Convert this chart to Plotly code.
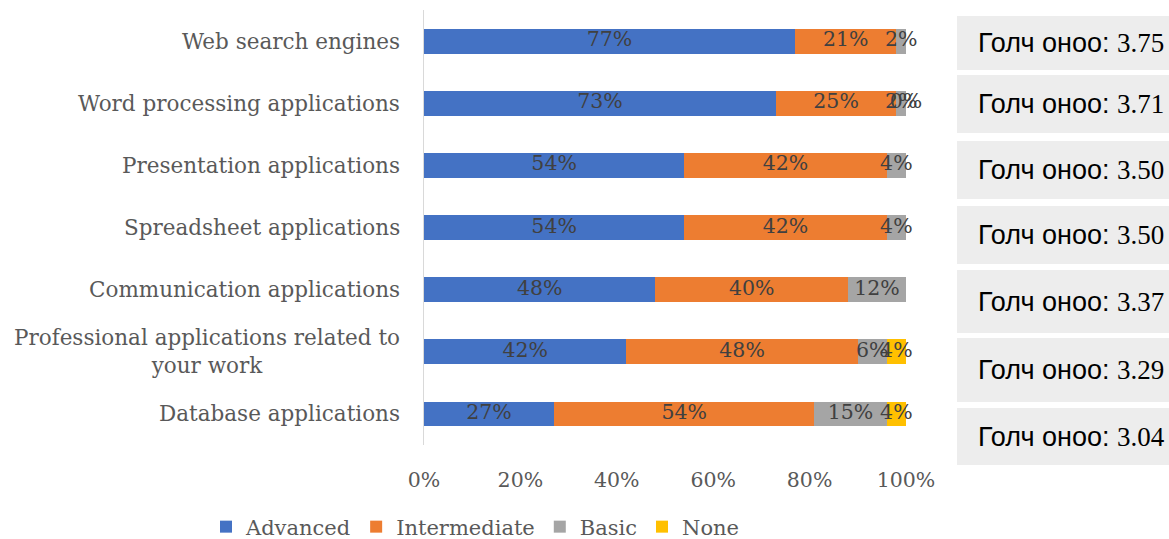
import plotly.graph_objects as go

categories = ["Web search engines", "Word processing applications",
              "Presentation applications", "Spreadsheet applications",
              "Communication applications",
              "Professional applications related to<br>your work",
              "Database applications"]
advanced = [77, 73, 54, 54, 48, 42, 27]
intermediate = [21, 25, 42, 42, 40, 48, 54]
basic = [2, 2, 4, 4, 12, 6, 15]
none_ = [0, 0, 0, 0, 0, 4, 4]
none_labels = ["", "0%", "", "", "", "4%", "4%"]
means = ["3.75", "3.71", "3.50", "3.50", "3.37", "3.29", "3.04"]
series_names = ["Advanced", "Intermediate", "Basic", "None"]
colors = ["#4472C4", "#ED7D31", "#A5A5A5", "#FFC000"]
x_ticks = [0, 20, 40, 60, 80, 100]

W, H = 1169, 539
L, R, T, B = 424, 263, 10, 94
pw = W - L - R
ph = H - T - B

serif = "DejaVu Serif"
fig = go.Figure()
series = [advanced, intermediate, basic, none_]
for name, vals, col in zip(series_names, series, colors):
    fig.add_trace(go.Bar(y=categories, x=vals, name=name, orientation="h",
                         marker=dict(color=col, line=dict(width=0)),
                         width=0.4, hoverinfo="skip"))

# data labels centred on segments
for i, vals in enumerate(series):
    start = [sum(s[j] for s in series[:i]) for j in range(len(categories))]
    mids = [st + v / 2 for st, v in zip(start, vals)]
    if i == 3:
        texts = none_labels
    else:
        texts = [f"{v}%" if v > 0 else "" for v in vals]
    fig.add_trace(go.Scatter(y=categories, x=mids, mode="text", text=texts,
                             textfont=dict(family=serif, size=20.5, color="#404040"),
                             showlegend=False, hoverinfo="skip", cliponaxis=False))

# category labels
for c in categories:
    fig.add_annotation(x=0, y=c, xref="paper", yref="y", text=c, showarrow=False,
                       xanchor="right", xshift=-22, align="center",
                       font=dict(family=serif, size=21.5, color="#595959"))

# mean boxes (pixel top/bottom)
box_px = [(16, 70), (75, 133), (141, 199), (206, 264), (270, 333), (338, 402), (408, 465)]
bx0 = (957 - L) / pw
bx1 = (1169 - L) / pw
for (t, b), m in zip(box_px, means):
    y0 = (H - B - b) / ph
    y1 = (H - B - t) / ph
    fig.add_shape(type="rect", xref="paper", yref="paper", x0=bx0, x1=bx1,
                  y0=y0, y1=y1, fillcolor="#EDEDED", line=dict(width=0), layer="below")
    fig.add_annotation(xref="paper", yref="paper", x=(976 - L) / pw, y=(y0 + y1) / 2,
                       xanchor="left", yanchor="middle", showarrow=False,
                       text=f"Голч оноо: <span style='font-family:Liberation Serif'>{m}</span>",
                       font=dict(family="Liberation Sans", size=27, color="#000000"))

fig.update_layout(
    barmode="stack", width=W, height=H,
    margin=dict(l=L, r=R, t=T, b=B, autoexpand=False),
    paper_bgcolor="white", plot_bgcolor="white",
    xaxis=dict(range=[0, 100], tickvals=x_ticks, ticktext=[f"{v}%" for v in x_ticks],
               showgrid=False, zeroline=False, showline=False, ticks="",
               ticklabelstandoff=20,
               tickfont=dict(family=serif, size=20.5, color="#595959"), fixedrange=True),
    yaxis=dict(autorange="reversed", showticklabels=False, showgrid=False,
               zeroline=False, showline=True, linecolor="#D9D9D9", linewidth=1,
               ticks=""),
    legend=dict(orientation="h", x=(206 - L) / pw, xanchor="left",
                y=(H - B - 527) / ph, yanchor="middle",
                font=dict(family=serif, size=21, color="#595959"),
                traceorder="normal", itemwidth=30, tracegroupgap=0),
    showlegend=True,
)
fig.write_html("out.html", config={"displayModeBar": False},
               post_script="document.body.style.margin='0';document.body.style.padding='0';")
